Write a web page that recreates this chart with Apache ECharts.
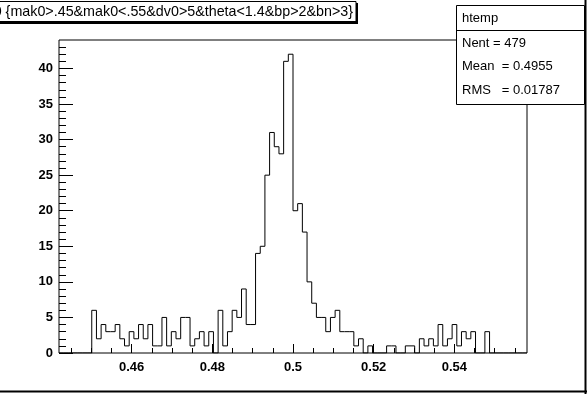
<!DOCTYPE html>
<html><head><meta charset="utf-8">
<script src="https://cdn.jsdelivr.net/npm/echarts@6/dist/echarts.min.js"></script>
<style>html,body{margin:0;padding:0;background:#fff}#c{width:587px;height:394px}</style>
</head><body><div id="c"></div>
<script>
// Histogram axis range and binning (ROOT htemp, 100 bins)
const xMin = 0.442;
const xMax = 0.558;
const nBins = 100;

// Bin contents, bins 0..99
const counts = [
  0,0,0,0,0,0,0,6,2,4,
  3,3,4,2,1,3,2,4,2,4,
  1,1,5,1,3,2,5,5,1,2,
  3,1,3,0,6,1,3,6,5,9,
  4,4,14,15,25,31,29,28,41,42,
  20,21,17,10,7,5,5,3,5,6,
  3,3,3,1,2,0,1,0,0,0,
  1,1,0,0,1,1,0,2,1,2,
  1,4,1,2,4,1,3,2,3,0,
  0,3,0,0,0,0,0,0,0,0
];

const yMax = 44;
const xMajorTicks = [0.46, 0.48, 0.50, 0.52, 0.54];
const xMinorTicks = [0.445,0.45,0.455,0.46,0.465,0.47,0.475,0.48,0.485,0.49,0.495,0.5,
                     0.505,0.51,0.515,0.52,0.525,0.53,0.535,0.54,0.545,0.55,0.555];
const yMajorTicks = [0,5,10,15,20,25,30,35,40];
const yMinorTicks = [0,1,2,3,4,5,6,7,8,9,10,11,12,13,14,15,16,17,18,19,20,21,22,23,24,25,26,27,28,29,30,31,32,33,34,35,36,37,38,39,40,41,42,43];

const titleText = 'mak0 {mak0>.45&mak0<.55&dv0>5&theta<1.4&bp>2&bn>3}';
const statsName = 'htemp';
const statsLines = ['Nent = 479', 'Mean  = 0.4955', 'RMS   = 0.01787'];

const binW = (xMax - xMin) / nBins;
const stepData = counts.map((c, i) => [xMin + i * binW, c]);
stepData.push([xMax, counts[nBins - 1]]);

const FONT = '"Liberation Sans", Arial, Helvetica, sans-serif';
const chart = echarts.init(document.getElementById('c'), null, {renderer: 'canvas'});

const tickLine = {color: '#000', width: 1};
chart.setOption({
  animation: false,
  backgroundColor: '#fff',
  grid: {left: 59, top: 40, width: 468, height: 313, show: true,
         borderColor: '#000', borderWidth: 1, backgroundColor: 'transparent'},
  xAxis: [
    {type: 'value', min: xMin, max: xMax, position: 'bottom',
     axisLine: {show: false}, splitLine: {show: false},
     axisTick: {show: true, inside: true, length: 9, customValues: xMajorTicks, lineStyle: tickLine},
     axisLabel: {customValues: xMajorTicks, margin: 8, color: '#000', fontSize: 13,
                 fontFamily: FONT, fontWeight: 'bold'}},
    {type: 'value', min: xMin, max: xMax, position: 'bottom',
     axisLine: {show: false}, splitLine: {show: false}, axisLabel: {show: false},
     axisTick: {show: true, inside: true, length: 5, customValues: xMinorTicks, lineStyle: tickLine}}
  ],
  yAxis: [
    {type: 'value', min: 0, max: yMax, position: 'left',
     axisLine: {show: false}, splitLine: {show: false},
     axisTick: {show: true, inside: true, length: 14, customValues: yMajorTicks, lineStyle: tickLine},
     axisLabel: {customValues: yMajorTicks, margin: 6, color: '#000', fontSize: 13,
                 fontFamily: FONT, fontWeight: 'bold'}},
    {type: 'value', min: 0, max: yMax, position: 'left',
     axisLine: {show: false}, splitLine: {show: false}, axisLabel: {show: false},
     axisTick: {show: true, inside: true, length: 7, customValues: yMinorTicks, lineStyle: tickLine}}
  ],
  series: [{
    type: 'line', xAxisIndex: 0, yAxisIndex: 0, step: 'end', symbol: 'none',
    data: stepData, lineStyle: {color: '#000', width: 1}, silent: true
  }],
  graphic: [
    // canvas border (right / bottom)
    {type: 'line', shape: {x1: 585.5, y1: 0, x2: 585.5, y2: 394}, style: {stroke: '#000', lineWidth: 2}},
    {type: 'line', shape: {x1: 0, y1: 391.5, x2: 587, y2: 391.5}, style: {stroke: '#000', lineWidth: 2}},
    // title pave
    {type: 'rect', shape: {x: -10, y: 3, width: 368, height: 21}, style: {fill: '#000'}},
    {type: 'rect', shape: {x: -10, y: 1.5, width: 366, height: 20}, style: {fill: '#fff', stroke: '#000', lineWidth: 1}},
    {type: 'text', style: {x: 353, y: 12, text: titleText, align: 'right', verticalAlign: 'middle',
      font: '14.3px ' + FONT, fill: '#000'}},
    // stats box
    {type: 'rect', shape: {x: 456.5, y: 5.5, width: 128, height: 99}, style: {fill: '#fff', stroke: '#000', lineWidth: 1}},
    {type: 'line', shape: {x1: 456.5, y1: 30.5, x2: 584.5, y2: 30.5}, style: {stroke: '#000', lineWidth: 1}},
    {type: 'text', style: {x: 462, y: 18, text: statsName, verticalAlign: 'middle', font: '13px ' + FONT, fill: '#000'}},
    {type: 'text', style: {x: 462, y: 43, text: statsLines[0], verticalAlign: 'middle', font: '13px ' + FONT, fill: '#000'}},
    {type: 'text', style: {x: 462, y: 66, text: statsLines[1], verticalAlign: 'middle', font: '13px ' + FONT, fill: '#000'}},
    {type: 'text', style: {x: 462, y: 90, text: statsLines[2], verticalAlign: 'middle', font: '13px ' + FONT, fill: '#000'}}
  ]
});
</script></body></html>
